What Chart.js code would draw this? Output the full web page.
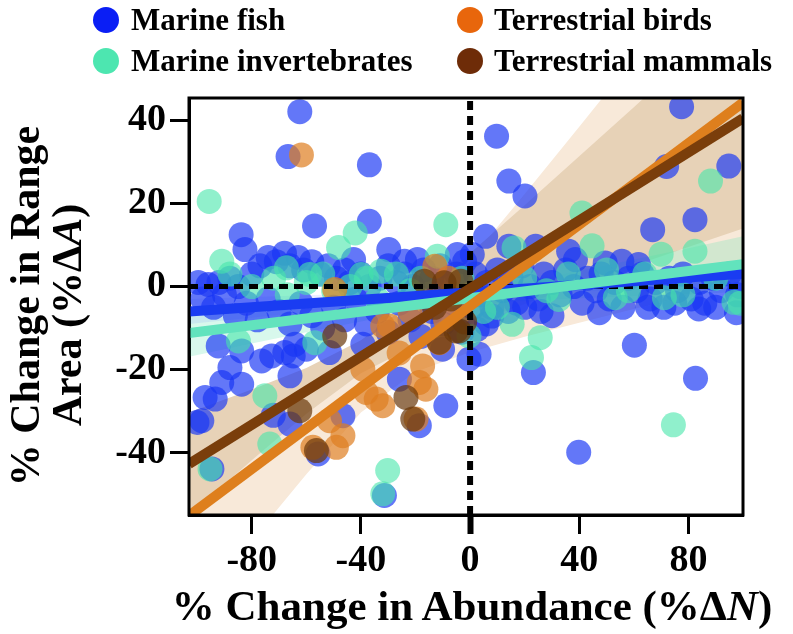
<!DOCTYPE html>
<html>
<head>
<meta charset="utf-8">
<script src="https://cdn.jsdelivr.net/npm/chart.js@4.4.1/dist/chart.umd.min.js"></script>
<style>
  html, body { margin: 0; padding: 0; background: #ffffff; }
  #wrap { position: relative; width: 793px; height: 634px; overflow: hidden; }
  #chart { position: absolute; left: 0; top: 0; }
  .lbl { position: absolute; font-family: 'Liberation Serif', 'Times New Roman', serif; font-weight: bold; color: #000; white-space: nowrap; line-height: 1; }
  .dot { position: absolute; width: 26px; height: 26px; border-radius: 50%; }
</style>
</head>
<body>
<div id="wrap">
  <canvas id="chart" width="793" height="634"></canvas>
</div>
<script>
// ---------- data ----------
const seriesNames = ['Marine fish', 'Marine invertebrates', 'Terrestrial birds', 'Terrestrial mammals'];
const xTicks = [-80, -40, 0, 40, 80];
const yTicks = [-40, -20, 0, 20, 40];

const marineFish = [
  [-62.4,42.1],[-66.7,31.3],[-36.9,29.3],[-57,14.6],[-36.9,15.7],[-83.9,12.5],[-82.5,8.9],[-29.8,8.9],
  [-42.7,6.5],[-24,6.1],[-19.3,6.5],[-4.7,7.7],[-99.6,1],
  [9.7,36.2],[14.2,25.4],[20.1,21.8],[77.5,43.3],[94.8,29],[66.9,13.7],[82.4,16.1],[72,28.9],[5.7,12.1],
  [0.8,7.7],[14.2,9.7],[24,9.7],[36.1,8.5],[38.6,6.5],[49.5,5.7],[55.6,6.1],[61.7,5.3],
  [60.2,-14.1],[82.6,-22.1],[39.8,-39.9],[23.2,-20.7],[3.3,-16.3],[30,-7],[47.4,-6.3],[83.8,-5.4],[97.6,-6.3],
  [-98.3,-32.3],[-93.4,-27.1],[-91,-23.1],[-88,-19.5],[-83.7,-23.5],[-76.4,-17.9],[-72.7,-16.7],[-64.8,-16.7],
  [-60,-15.1],[-66,-21.5],[-72.1,-31],[-66,-33.1],[-55.7,-40.3],[-46.6,-31.1],[-25.9,-22.3],[-18.6,-33.5],
  [-8.9,-28.7],[-51.5,-15.9],[-39.3,-13.9],[-31.4,-50.3],[-94.6,-43.9],[-10.1,-15.1],[-0.4,-17.5],
  [-92.3,-14.3],[-83.7,-15.5],[-97.1,-26.7],[-100.1,-32.7],[-67.9,-15.9],[-64.2,-13.9],
  [-96,0.5],[-92,1],[-88,2],[-85,0],[-80,3],[-77,5],[-74,7],[-71,6],[-68,8],[-66,5],[-63,7],[-61,4],
  [-58,6],[-55,3],[-52,5],[-49,2],[-46,4],[-44,1],[-40,3],[-37,0],[-33,2],[-30,5],[-27,1],[-24,3],
  [-21,0],[-17,4],[-14,2],[-11,5],[-8,1],[-5,3],[-2,6],
  [-98,-3],[-94,-5],[-90,-2],[-86,-7],[-82,-4],[-78,-8],[-74,-3],[-70,-6],[-66,-9],[-62,-4],[-58,-7],
  [-54,-10],[-50,-5],[-46,-8],[-42,-3],[-38,-9],[-34,-6],[-30,-11],[-26,-4],[-22,-8],[-18,-12],[-14,-6],
  [-10,-9],[-6,-4],[-3,-11],
  [2,3],[4,-2],[6,1],[8,-5],[10,4],[12,-1],[15,2],[17,-4],[19,5],[22,0],[25,-3],[27,3],[30,1],[33,-2],
  [35,4],[38,0],[41,-4],[43,2],[46,-1],[48,3],[51,-3],[53,1],[56,-5],[58,2],[61,-1],[63,3],[66,-3],
  [68,1],[71,-5],[73,2],[76,-1],[78,3],[81,-3],[84,1],[86,-4],[89,2],[92,-1],[95,3],[98,-2],[99,0],
  [1,-5],[2.6,-10.3],[6,-9],[8,-7.1],[14,-6],[20,-5],[26,-6],[65,-5],[75,-4],[90,-5]
];
const marineInvertebrates = [
  [-95.6,20.5],[-8.9,14.9],[-42.1,12.9],[-48.2,9.4],[-91,6.1],[-12,7.3],
  [88.1,25.4],[41,17.7],[44.7,9.8],[70,7.8],[82.4,8.5],[16.1,9.3],
  [74.5,-33.3],[25.7,-12.3],[22.5,-17.1],[15.4,-9.1],[-0.4,-11.9],[96.7,-3.8],[71.2,-2.7],[53.2,-2.7],[32.5,-3.1],
  [-75.2,-26.3],[-73.4,-37.9],[-95.3,-43.9],[-30.2,-44.3],[-32,-49.9],[-56.9,-13.5],[-84.9,-13.1],
  [-67.3,4.5],[-58.8,2.9],[-32.6,3.7],[-39.9,2.9],
  [-88,3],[-80,0],[-72,2],[-67,-2],[-60,1],[-54,3],[-50,-1],[-44,0],[-38,2],[-34,-3],[-27,3],[-22,-1],
  [-18,2],[-6,-2],[-3,2],[5,-6],[10,-5],[20,2],[28,-1],[36,3],[50,4],[58,-1],[64,3],[78,-2],[90,2],[99,-4]
];
const terrestrialBirds = [
  [-61.8,31.7],[-12.9,4.9],[-49.6,-0.7],[-29.6,-9.5],[-17.4,-19.1],[-16.2,-24.7],[-34.4,-27.1],[-32,-28.7],
  [-38.1,-25.5],[-46.6,-35.9],[-57.6,-38.7],[-49,-38.7],[-51.5,-32.3],[-39.3,-19.9],[-19.8,-31.9],[-32,-9.5],
  [-11.3,-13.5],[-18.6,-23.1],[-5,-3],[-8,2],[-22,-6],[-26,-16],[-9,-8]
];
const terrestrialMammals = [
  [-16.8,1.3],[-9.5,0.9],[-3.4,1.3],[-4,-10.7],[-49.6,-11.9],[-62.4,-29.9],[-23.5,-26.7],[-21,-31.9],
  [-56.3,-39.5],[-5.2,-10.7],[-11.3,-13.4],[-2,-8.5],[-13,-5],[-7,-3]
];

// regression lines (end points)
const fishLine = [[-103,-6.0],[100,3.1]];
const invertLine = [[-103,-11.2],[100,5.4]];
const birdLine = [[-103,-55.2],[100,44.3]];
const mammalLine = [[-103,-42.7],[100,40.5]];

// confidence bands
const bandX = [-103,-80,-60,-40,-20,0,20,40,60,80,100];
const birdUpper = [-30.6,-26.7,-23,-18.3,-8.5,6.4,22.3,38.5,54.8,71.1,87.5];
const birdLower = [-79.8,-61.1,-45.2,-30.3,-20.5,-15.8,-12.1,-8.7,-5.4,-2.1,1.1];
const mammalUpper = [-30.3,-24.8,-19.6,-12.9,-3.2,8,19.6,31.4,43.2,55.1,67];
const mammalLower = [-55.1,-41.8,-30.6,-20.9,-14.2,-9,-4.2,0.4,5,9.5,14];
const invertUpper = [-5.5,-4.9,-4.4,-3.8,-2.8,-1.2,1.1,3.8,6.5,9.2,12.1];
const invertLower = [-16.9,-13.7,-11,-8.4,-6,-4.4,-3.5,-2.8,-2.3,-1.8,-1.3];
const fishBandX = [-103,-60,-20,20,60,100];
const fishUpper = [-3,-2.1,-1.3,0.5,3.3,6.1];
const fishLower = [-9,-6.1,-3.3,-1.5,-0.7,0.1];

// zero reference lines
const zeroH = [[-103,0],[100,0]];
const zeroV = [[0,-55],[0,45.4]];

// ---------- helpers ----------
const pts = arr => arr.map(p => ({x: p[0], y: p[1]}));
const band = (xs, ys) => xs.map((x, i) => ({x: x, y: ys[i]}));

const seriesColors = ['#0a1ef5', '#4de6b0', '#e8660c', '#6e2c08'];

function bandPair(xs, lo, hi, color, order) {
  return [
    {type:'line', data: band(xs, lo), borderWidth: 0, pointRadius: 0, fill: false, order: order, clip: 0, borderColor: 'rgba(0,0,0,0)'},
    {type:'line', data: band(xs, hi), borderWidth: 0, pointRadius: 0, fill: '-1', backgroundColor: color, order: order, clip: 0, borderColor: 'rgba(0,0,0,0)'}
  ];
}
function scat(arr, color, order) {
  return {type:'scatter', data: pts(arr), pointRadius: 12.5, pointBorderWidth: 0, backgroundColor: color, order: order, clip: 0};
}
function lineDs(arr, color, width, order, dash) {
  return {type:'line', data: pts(arr), borderColor: color, borderWidth: width, pointRadius: 0, fill: false, order: order, clip: 0, borderDash: dash || [], borderCapStyle: 'butt'};
}

const datasets = [].concat(
  bandPair(bandX, birdLower, birdUpper, '#f8e9d9', 30),
  bandPair(bandX, mammalLower, mammalUpper, '#e7d2b7', 29),
  bandPair(bandX, invertLower, invertUpper, 'rgba(90,225,175,0.24)', 28),
  bandPair(fishBandX, fishLower, fishUpper, 'rgba(60,90,255,0.1)', 27),
  [
    scat(marineFish, 'rgba(25,55,245,0.68)', 20),
    scat(marineInvertebrates, 'rgba(70,230,170,0.6)', 19),
    scat(terrestrialBirds, 'rgba(222,125,32,0.7)', 18),
    scat(terrestrialMammals, 'rgba(105,55,10,0.7)', 17),
    lineDs(zeroH, '#000000', 5, 10, [9, 6]),
    lineDs(zeroV, '#000000', 6, 10, [9, 6]),
    lineDs(fishLine, '#1a3cf2', 10, 4),
    lineDs(invertLine, '#62e3bd', 10, 3),
    lineDs(birdLine, '#de7f1d', 10, 2),
    lineDs(mammalLine, '#7a3e0b', 10, 1)
  ]
);

const frame = {
  id: 'frame',
  afterDraw(chart) {
    const a = chart.chartArea, c = chart.ctx;
    c.save();
    c.strokeStyle = '#000'; c.lineWidth = 3;
    c.strokeRect(a.left, a.top, a.right - a.left, a.bottom - a.top);
    c.restore();
  }
};

const tickFont = {family: "'Liberation Serif', 'Times New Roman', serif", weight: 'bold', size: 38};

new Chart(document.getElementById('chart'), {
  type: 'scatter',
  data: {datasets: datasets},
  options: {
    responsive: false,
    animation: false,
    events: [],
    layout: {padding: {left: 0, top: 98, right: 50, bottom: 0}},
    plugins: {legend: {display: false}, tooltip: {enabled: false}},
    scales: {
      x: {
        type: 'linear', min: -103, max: 100,
        afterBuildTicks: s => { s.ticks = xTicks.map(v => ({value: v})); },
        afterFit: s => { s.height = 119; },
        ticks: {font: tickFont, color: '#000', padding: 4, maxRotation: 0, autoSkip: false, callback: v => String(v)},
        grid: {drawOnChartArea: false, drawTicks: true, tickLength: 19, tickColor: '#000', tickWidth: c => (c.tick && c.tick.value === 0 ? 6 : 3)},
        border: {display: true, color: '#000', width: 3}
      },
      y: {
        type: 'linear', min: -55, max: 45.4,
        afterBuildTicks: s => { s.ticks = yTicks.map(v => ({value: v})); },
        afterFit: s => { s.width = 189; },
        ticks: {font: tickFont, color: '#000', padding: 4, autoSkip: false, callback: v => String(v)},
        grid: {drawOnChartArea: false, drawTicks: true, tickLength: 19, tickColor: '#000', tickWidth: 3},
        border: {display: true, color: '#000', width: 3}
      }
    }
  },
  plugins: [frame]
});

// ---------- HTML text: legend and axis titles ----------
const wrap = document.getElementById('wrap');
const legendPos = [[106, 20, 131], [106, 61, 131], [470, 20, 494], [470, 61, 494]];
seriesNames.forEach((name, i) => {
  const p = legendPos[i];
  const d = document.createElement('div');
  d.className = 'dot';
  d.style.left = (p[0] - 13) + 'px'; d.style.top = (p[1] - 13) + 'px';
  d.style.background = seriesColors[i];
  wrap.appendChild(d);
  const t = document.createElement('div');
  t.className = 'lbl';
  t.style.fontSize = '31px';
  t.style.left = p[2] + 'px'; t.style.top = (p[1] - 16) + 'px';
  t.textContent = name;
  wrap.appendChild(t);
});

function addTitle(html, cx, cy, size, rotate) {
  const t = document.createElement('div');
  t.className = 'lbl';
  t.style.fontSize = size + 'px';
  t.innerHTML = html;
  t.style.left = cx + 'px'; t.style.top = cy + 'px';
  t.style.transform = 'translate(-50%, -50%)' + (rotate ? ' rotate(-90deg)' : '');
  wrap.appendChild(t);
}
addTitle('% Change in Abundance (%&Delta;<i>N</i>)', 472, 605, 43, false);
addTitle('% Change in Range', 25, 306, 42, true);
addTitle('Area (%&Delta;<i>A</i>)', 67, 315, 42, true);
</script>
</body>
</html>
